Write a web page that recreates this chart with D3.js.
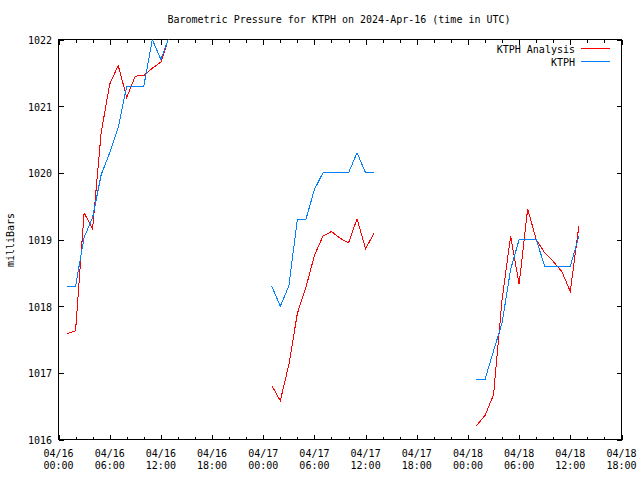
<!DOCTYPE html>
<html>
<head>
<meta charset="utf-8">
<script src="https://cdn.jsdelivr.net/npm/d3@7"></script>
<style>
  html, body { margin: 0; padding: 0; background: #fff; }
  svg { display: block; }
  text { font-family: "DejaVu Sans Mono", "Liberation Mono", monospace; font-size: 10px; fill: #000; }
</style>
</head>
<body>
<svg id="chart" width="640" height="480"></svg>
<script>
// Hours since 2024-04-16 00:00 UTC
const hours = [1,2,3,4,5,6,7,8,9,10,11,12,13,
               25,26,27,28,29,30,31,32,33,34,35,36,37,
               49,50,51,52,53,54,55,56,57,58,59,60,61];
// KTPH Analysis (red)
const analysis = [1017.59,1017.63,1019.40,1019.16,1020.60,1021.33,1021.61,1021.13,1021.45,1021.46,1021.57,1021.66,1022.05,
                  1016.81,1016.58,1017.12,1017.89,1018.28,1018.76,1019.05,1019.12,1019.02,1018.95,1019.31,1018.86,1019.10,
                  1016.21,1016.36,1016.67,1018.10,1019.05,1018.33,1019.46,1019.00,1018.80,1018.67,1018.52,1018.22,1019.20];
// KTPH observed (blue)
const observed = [1018.30,1018.30,1019.03,1019.33,1019.97,1020.30,1020.68,1021.30,1021.30,1021.30,1022.00,1021.70,1022.05,
                  1018.30,1018.00,1018.30,1019.30,1019.30,1019.75,1020.00,1020.00,1020.00,1020.00,1020.30,1020.00,1020.00,
                  1016.90,1016.90,1017.33,1017.75,1018.55,1019.00,1019.00,1019.00,1018.60,1018.60,1018.60,1018.60,1019.05];
const xTickHours = [0,6,12,18,24,30,36,42,48,54,60,66];
const xTickLabels = [["04/16","00:00"],["04/16","06:00"],["04/16","12:00"],["04/16","18:00"],
                     ["04/17","00:00"],["04/17","06:00"],["04/17","12:00"],["04/17","18:00"],
                     ["04/18","00:00"],["04/18","06:00"],["04/18","12:00"],["04/18","18:00"]];
const yTicks = [1016,1017,1018,1019,1020,1021,1022];
const seriesNames = ["KTPH Analysis","KTPH"];
const seriesColors = ["#ff0000","#0080ff"];

const L = 58.5, R = 621.5, T = 39.5, B = 439.5;
const svg = d3.select("#chart");
const x = d3.scaleLinear().domain([0,66]).range([L,R]);
const y = d3.scaleLinear().domain([1016,1022]).range([B,T]);

svg.append("defs").append("clipPath").attr("id","clip")
  .append("rect").attr("x",L).attr("y",T).attr("width",R-L).attr("height",B-T);

// Title
svg.append("text").attr("x",339).attr("y",19).attr("text-anchor","middle")
  .attr("dominant-baseline","central")
  .text("Barometric Pressure for KTPH on 2024-Apr-16 (time in UTC)");

// Y label
svg.append("text").attr("transform","translate(10,240) rotate(-90)")
  .attr("text-anchor","middle").attr("dominant-baseline","central").text("milliBars");

// Axes (ticks pointing inward, mirrored)
const minorHours = d3.range(0,67,2).filter(h => h % 6 !== 0);
const gB = svg.append("g").attr("transform",`translate(0,${B})`)
  .call(d3.axisTop(x).tickValues(xTickHours).tickSize(5).tickFormat(""));
const gBm = svg.append("g").attr("transform",`translate(0,${B})`)
  .call(d3.axisTop(x).tickValues(minorHours).tickSize(3).tickFormat(""));
const gT = svg.append("g").attr("transform",`translate(0,${T})`)
  .call(d3.axisBottom(x).tickValues(xTickHours).tickSize(5).tickFormat(""));
const gTm = svg.append("g").attr("transform",`translate(0,${T})`)
  .call(d3.axisBottom(x).tickValues(minorHours).tickSize(3).tickFormat(""));
const gL = svg.append("g").attr("transform",`translate(${L},0)`)
  .call(d3.axisRight(y).tickValues(yTicks).tickSize(5).tickFormat(""));
const gR = svg.append("g").attr("transform",`translate(${R},0)`)
  .call(d3.axisLeft(y).tickValues(yTicks).tickSize(5).tickFormat(""));
[gB,gBm,gT,gTm,gL,gR].forEach(g => {
  g.select(".domain").remove();
  g.selectAll("line").attr("stroke","#000").attr("shape-rendering","crispEdges");
});

// Frame
svg.append("rect").attr("x",L).attr("y",T).attr("width",R-L).attr("height",B-T)
  .attr("fill","none").attr("stroke","#000").attr("stroke-width",1).attr("shape-rendering","crispEdges");

// Y tick labels
svg.append("g").selectAll("text").data(yTicks).join("text")
  .attr("x",52).attr("y",d => y(d)+1).attr("text-anchor","end")
  .attr("dominant-baseline","central").text(d => d);

// X tick labels
const xl = svg.append("g").selectAll("g").data(xTickHours).join("g")
  .attr("transform",d => `translate(${x(d)},0)`);
xl.append("text").attr("y",453).attr("text-anchor","middle").attr("dominant-baseline","central")
  .text((d,i) => xTickLabels[i][0]);
xl.append("text").attr("y",465).attr("text-anchor","middle").attr("dominant-baseline","central")
  .text((d,i) => xTickLabels[i][1]);

// Lines (break at gaps > 1 hour)
function segments(vals){
  const segs = []; let cur = [];
  hours.forEach((h,i) => {
    if (cur.length && h - cur[cur.length-1][0] > 1) { segs.push(cur); cur = []; }
    cur.push([h, vals[i]]);
  });
  if (cur.length) segs.push(cur);
  return segs;
}
const line = d3.line().x(d => x(d[0])).y(d => y(d[1]));
const plot = svg.append("g").attr("clip-path","url(#clip)");
[analysis, observed].forEach((vals, si) => {
  plot.append("g").selectAll("path").data(segments(vals)).join("path")
    .attr("d", line).attr("fill","none").attr("stroke",seriesColors[si])
    .attr("stroke-width",1).attr("shape-rendering","crispEdges");
});

// Legend
const legY = [49.5, 62.5];
seriesNames.forEach((name, i) => {
  svg.append("text").attr("x",575).attr("y",legY[i]).attr("text-anchor","end")
    .attr("dominant-baseline","central").text(name);
  svg.append("line").attr("x1",581).attr("x2",610).attr("y1",legY[i]-1).attr("y2",legY[i]-1)
    .attr("stroke",seriesColors[i]).attr("stroke-width",1).attr("shape-rendering","crispEdges");
});
</script>
</body>
</html>
